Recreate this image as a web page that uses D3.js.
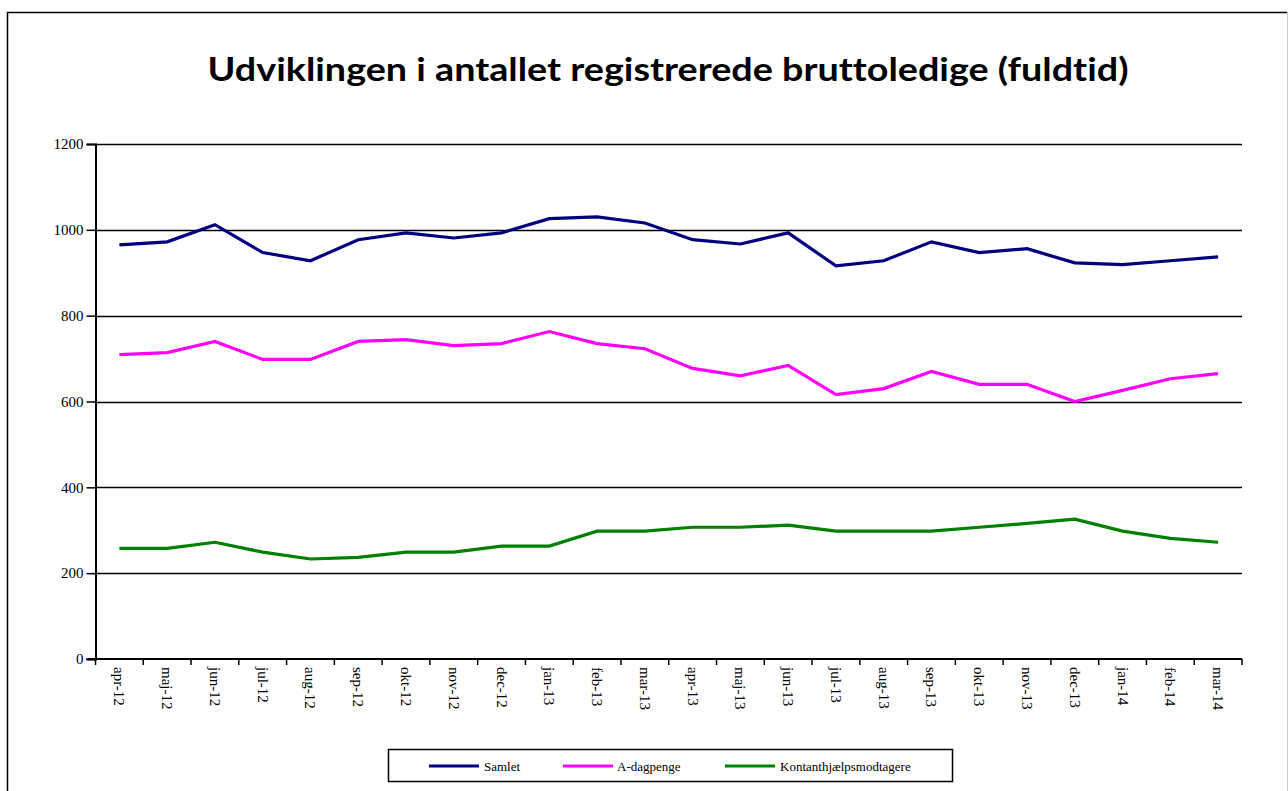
<!DOCTYPE html>
<html>
<head>
<meta charset="utf-8">
<script src="https://cdn.jsdelivr.net/npm/d3@7/dist/d3.min.js"></script>
<style>
  html, body { margin: 0; padding: 0; background: #fff; }
  svg { display: block; }
  text { font-variant-ligatures: none; font-feature-settings: "liga" 0, "clig" 0; }
</style>
</head>
<body>
<svg id="chart" width="1288" height="791"></svg>
<script>
// Monthly categories
const months = ["apr-12","maj-12","jun-12","jul-12","aug-12","sep-12","okt-12","nov-12","dec-12",
  "jan-13","feb-13","mar-13","apr-13","maj-13","jun-13","jul-13","aug-13","sep-13","okt-13",
  "nov-13","dec-13","jan-14","feb-14","mar-14"];

// Series values (full-time gross unemployed)
const samlet = [965, 972, 1012, 947, 928, 977, 993, 981, 993, 1026, 1030, 1016,
  977, 967, 993, 916, 928, 972, 947, 956, 923, 919, 928, 937];
const aDagpenge = [709, 714, 740, 698, 698, 740, 744, 730, 735, 763, 735, 723,
  677, 660, 684, 616, 630, 670, 640, 640, 600, 626, 653, 665];
const kontant = [258, 258, 272, 249, 233, 237, 249, 249, 263, 263, 298, 298,
  307, 307, 312, 298, 298, 298, 307, 316, 326, 298, 281, 272];

const seriesNames = ["Samlet", "A-dagpenge", "Kontanthjælpsmodtagere"];
const seriesColors = ["#000080", "#ff00ff", "#008000"];
const yTicks = [0, 200, 400, 600, 800, 1000, 1200];

const titleText = "Udviklingen i antallet registrerede bruttoledige (fuldtid)";

const serif = "'Liberation Serif', 'Times New Roman', serif";
const svg = d3.select("#chart");

// Outer chart frame
svg.append("path")
  .attr("d", "M7.5,791 L7.5,12.5 L1287.5,12.5")
  .attr("fill", "none")
  .attr("stroke", "#000")
  .attr("stroke-width", 1.5);
svg.append("line")
  .attr("x1", 1287.5).attr("x2", 1287.5).attr("y1", 12).attr("y2", 791)
  .attr("stroke", "#ccc").attr("stroke-width", 1);

// Title
svg.append("text")
  .attr("x", 668).attr("y", 81)
  .attr("text-anchor", "middle")
  .attr("font-family", "Lato, 'Open Sans', sans-serif")
  .attr("font-weight", "bold")
  .attr("font-size", 33)
  .attr("textLength", 921)
  .attr("lengthAdjust", "spacingAndGlyphs")
  .style("font-variant-ligatures", "none")
  .text(titleText);

const plot = { left: 95.5, right: 1242, top: 144, bottom: 659 };

const x = d3.scaleBand().domain(months).range([plot.left, plot.right]).padding(0);
const y = d3.scaleLinear().domain([0, 1200]).range([plot.bottom, plot.top]);

// Horizontal gridlines
svg.append("g")
  .selectAll("line")
  .data(yTicks.filter(d => d > 0))
  .join("line")
  .attr("x1", plot.left).attr("x2", plot.right)
  .attr("y1", d => Math.round(y(d)) + 0.5).attr("y2", d => Math.round(y(d)) + 0.5)
  .attr("stroke", "#000").attr("stroke-width", 1.5);

// Y axis
const yAxis = svg.append("g")
  .attr("transform", `translate(${plot.left},0)`)
  .call(d3.axisLeft(y).tickValues(yTicks).tickSize(9).tickPadding(3).tickFormat(d3.format("d")));
yAxis.select(".domain").attr("stroke", "#000").attr("stroke-width", 2);
yAxis.selectAll(".tick line").attr("stroke", "#000").attr("stroke-width", 1.5);
yAxis.selectAll("text")
  .attr("font-family", serif)
  .attr("font-size", 15)
  .attr("fill", "#000");

// X axis: ticks at category boundaries
const xAxisG = svg.append("g").attr("transform", `translate(0,${plot.bottom})`);
xAxisG.append("line")
  .attr("x1", plot.left - 9).attr("x2", plot.right)
  .attr("y1", 0).attr("y2", 0)
  .attr("stroke", "#000").attr("stroke-width", 2);
const boundaries = months.map(m => x(m)).concat([plot.right]);
xAxisG.selectAll("line.tk")
  .data(boundaries)
  .join("line")
  .attr("class", "tk")
  .attr("x1", d => d).attr("x2", d => d)
  .attr("y1", 0).attr("y2", 6)
  .attr("stroke", "#000").attr("stroke-width", 1.5);
xAxisG.selectAll("text")
  .data(months)
  .join("text")
  .attr("transform", d => `translate(${x(d) + x.bandwidth() / 2 - 5},8) rotate(90)`)
  .attr("text-anchor", "start")
  .attr("font-family", serif)
  .attr("font-size", 15)
  .attr("fill", "#000")
  .text(d => d);

// Lines
const allSeries = [samlet, aDagpenge, kontant];
const line = d3.line()
  .x((d, i) => x(months[i]) + x.bandwidth() / 2)
  .y(d => y(d));

svg.append("g")
  .selectAll("path")
  .data(allSeries)
  .join("path")
  .attr("d", d => line(d))
  .attr("fill", "none")
  .attr("stroke", (d, i) => seriesColors[i])
  .attr("stroke-width", 3.2)
  .attr("stroke-linejoin", "miter");

// Legend
const legend = svg.append("g");
legend.append("rect")
  .attr("x", 388.5).attr("y", 749.5).attr("width", 564).attr("height", 32)
  .attr("fill", "#fff").attr("stroke", "#000").attr("stroke-width", 1.5);
const legendItems = [
  { x: 429, tx: 484 },
  { x: 563, tx: 617 },
  { x: 725, tx: 780 }
];
legendItems.forEach((it, i) => {
  legend.append("line")
    .attr("x1", it.x).attr("x2", it.x + 50)
    .attr("y1", 766).attr("y2", 766)
    .attr("stroke", seriesColors[i]).attr("stroke-width", 3.2);
  legend.append("text")
    .attr("x", it.tx).attr("y", 771)
    .attr("font-family", serif)
    .attr("font-size", 13)
    .attr("fill", "#000")
    .text(seriesNames[i]);
});
</script>
</body>
</html>
